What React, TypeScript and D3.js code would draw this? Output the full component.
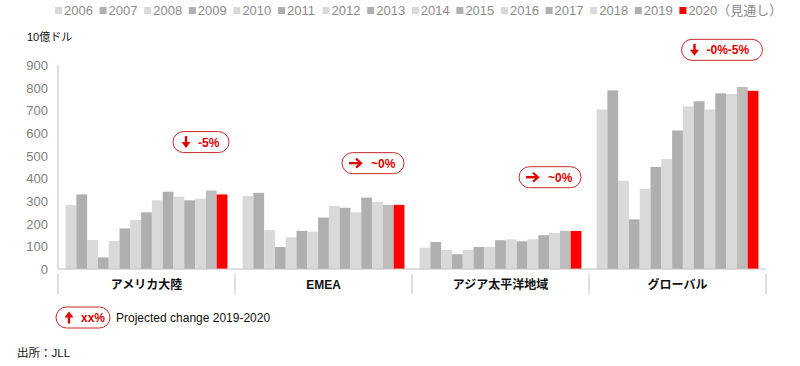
import React, { useEffect, useRef } from 'react';
import * as D3 from 'd3';

const years = ['2006', '2007', '2008', '2009', '2010', '2011', '2012', '2013', '2014', '2015', '2016', '2017', '2018', '2019', '2020'];
const yearLabels = ['2006', '2007', '2008', '2009', '2010', '2011', '2012', '2013', '2014', '2015', '2016', '2017', '2018', '2019', '2020（見通し）'];
const regions = ['アメリカ大陸', 'EMEA', 'アジア太平洋地域', 'グローバル'];

const americas = [282, 329, 128, 51, 124, 179, 216, 250, 303, 341, 319, 303, 310, 346, 329];
const emea = [322, 336, 172, 97, 140, 168, 165, 227, 278, 270, 250, 315, 296, 283, 283];
const apac = [94, 119, 84, 65, 84, 97, 97, 127, 131, 122, 131, 149, 159, 168, 168];
const global = [704, 788, 389, 219, 353, 450, 485, 611, 717, 740, 704, 775, 772, 803, 786];
const series = [americas, emea, apac, global];

const yTicks = [0, 100, 200, 300, 400, 500, 600, 700, 800, 900];

// projected change 2019-2020 per region
const changeLabels = ['-5%', '~0%', '~0%', '-0%-5%'];
const changeDirs = ['down', 'right', 'right', 'down'];
const changeLevels = [560, 467, 405, 967];

const FONT = '"Liberation Sans", Arial, "Noto Sans CJK JP", sans-serif';
const LIGHT = '#d9d9db';
const DARK = '#afafaf';
const MID = '#bdbdbd';
const RED = '#ff0000';

const dims = {
    width: 800,
    height: 366,
    left: 58,
    right: 766,
    top: 65,
    bottom: 269,
};

const barColor = (i: number) => {
    if (i === 14) return RED;
    if (i === 13) return MID;
    return i % 2 === 0 ? LIGHT : DARK;
};

const drawArrow = (g: any, dir: string, cx: number, cy: number) => {
    const col = '#e00000';
    if (dir === 'down') {
        g.append('line').attr('x1', cx).attr('x2', cx).attr('y1', cy - 6).attr('y2', cy + 2)
            .attr('stroke', col).attr('stroke-width', 2.4);
        g.append('path').attr('d', `M${cx - 4.5},${cy} L${cx + 4.5},${cy} L${cx},${cy + 6} Z`).attr('fill', col);
    } else if (dir === 'up') {
        g.append('line').attr('x1', cx).attr('x2', cx).attr('y1', cy + 6).attr('y2', cy - 2)
            .attr('stroke', col).attr('stroke-width', 2.4);
        g.append('path').attr('d', `M${cx - 4.5},${cy} L${cx + 4.5},${cy} L${cx},${cy - 6} Z`).attr('fill', col);
    } else {
        g.append('line').attr('x1', cx - 6).attr('x2', cx + 5).attr('y1', cy).attr('y2', cy)
            .attr('stroke', col).attr('stroke-width', 2.4);
        g.append('path').attr('d', `M${cx + 1},${cy - 4.5} L${cx + 6},${cy} L${cx + 1},${cy + 4.5}`)
            .attr('fill', 'none').attr('stroke', col).attr('stroke-width', 2.2);
    }
};

const drawPill = (svg: any, x: number, y: number, w: number, dir: string, label: string) => {
    const g = svg.append('g');
    g.append('rect').attr('x', x).attr('y', y).attr('width', w).attr('height', 21)
        .attr('rx', 10.5).attr('fill', 'white').attr('stroke', '#c8282a').attr('stroke-width', 1);
    drawArrow(g, dir, x + 13, y + 10.5);
    g.append('text').attr('x', x + (dir === 'right' ? 29 : 25)).attr('y', y + 15)
        .attr('font-family', FONT).attr('font-size', 12).attr('font-weight', 'bold')
        .attr('fill', '#e00000').text(label);
};

const App = () => {
    const container = useRef<SVGSVGElement>(null);

    useEffect(() => {
        if (!container.current) return;
        const svg = D3.select(container.current);
        svg.selectAll('*').remove();

        const xScale = D3.scaleBand().domain(regions).range([dims.left, dims.right]).padding(0);
        const inner = D3.scaleBand().domain(years).range([0, xScale.bandwidth()])
            .paddingInner(0).paddingOuter(0.7);
        const yScale = D3.scaleLinear().domain([0, 900]).range([dims.bottom, dims.top]);

        // legend
        const legend = svg.append('g');
        yearLabels.forEach((lab, i) => {
            const lx = 55 + i * 44.6;
            legend.append('rect').attr('x', lx).attr('y', 7).attr('width', 7).attr('height', 7)
                .attr('fill', i === 14 ? RED : (i % 2 === 0 ? LIGHT : DARK));
            legend.append('text').attr('x', lx + 9).attr('y', 15)
                .attr('font-family', FONT).attr('font-size', 13)
                .attr('fill', '#8c8c8c').text(lab);
        });

        svg.append('text').attr('x', 27).attr('y', 41)
            .attr('font-family', FONT).attr('font-size', 11).attr('fill', '#111')
            .text('10億ドル');

        // y axis
        const yAxis = svg.append('g');
        yAxis.append('line').attr('x1', dims.left).attr('x2', dims.left)
            .attr('y1', dims.top).attr('y2', dims.bottom).attr('stroke', '#bfbfbf');
        yAxis.selectAll('text').data(yTicks).join('text')
            .attr('x', 48).attr('y', (d: number) => yScale(d) + 5)
            .attr('text-anchor', 'end').attr('font-family', FONT).attr('font-size', 13)
            .attr('fill', '#7f7f7f').text((d: number) => d);

        // bars
        regions.forEach((r, ri) => {
            const g = svg.append('g').attr('transform', `translate(${xScale(r)},0)`);
            g.selectAll('rect').data(series[ri]).join('rect')
                .attr('x', (_d: number, i: number) => inner(years[i]) as number)
                .attr('width', inner.bandwidth())
                .attr('y', (d: number) => yScale(d))
                .attr('height', (d: number) => dims.bottom - yScale(d))
                .attr('fill', (_d: number, i: number) => barColor(i));
        });

        // baseline and category axis
        svg.append('line').attr('x1', dims.left).attr('x2', dims.right)
            .attr('y1', dims.bottom).attr('y2', dims.bottom).attr('stroke', '#bfbfbf');
        const cats = [...regions.map(r => xScale(r) as number), dims.right];
        svg.append('g').selectAll('line').data(cats).join('line')
            .attr('x1', (d: number) => d).attr('x2', (d: number) => d)
            .attr('y1', 274).attr('y2', 294).attr('stroke', '#bfbfbf');
        svg.append('g').selectAll('text').data(regions).join('text')
            .attr('x', (d: string) => (xScale(d) as number) + xScale.bandwidth() / 2)
            .attr('y', 289).attr('text-anchor', 'middle')
            .attr('font-family', FONT).attr('font-size', 12).attr('font-weight', 'bold')
            .attr('fill', '#111').text((d: string) => d);

        // change annotations
        regions.forEach((r, ri) => {
            const w = changeLabels[ri].length > 4 ? 81 : (ri === 0 ? 56 : 62);
            const cx = (xScale(r) as number) + 143 - (ri === 3 ? 10 : ri === 0 ? 0 : 5);
            drawPill(svg, cx - w / 2, yScale(changeLevels[ri]) - 10.5, w, changeDirs[ri], changeLabels[ri]);
        });

        // legend for annotation
        drawPill(svg, 56, 307, 54, 'up', 'xx%');
        svg.append('text').attr('x', 116).attr('y', 322)
            .attr('font-family', FONT).attr('font-size', 12).attr('fill', '#111')
            .text('Projected change 2019-2020');

        svg.append('text').attr('x', 17).attr('y', 357)
            .attr('font-family', FONT).attr('font-size', 11.5).attr('fill', '#111')
            .text('出所：JLL');
    }, []);

    return (
        <svg ref={container} width={dims.width} height={dims.height}
            style={{ position: 'absolute', left: 0, top: 0, background: 'white' }} />
    );
};

export default App;
